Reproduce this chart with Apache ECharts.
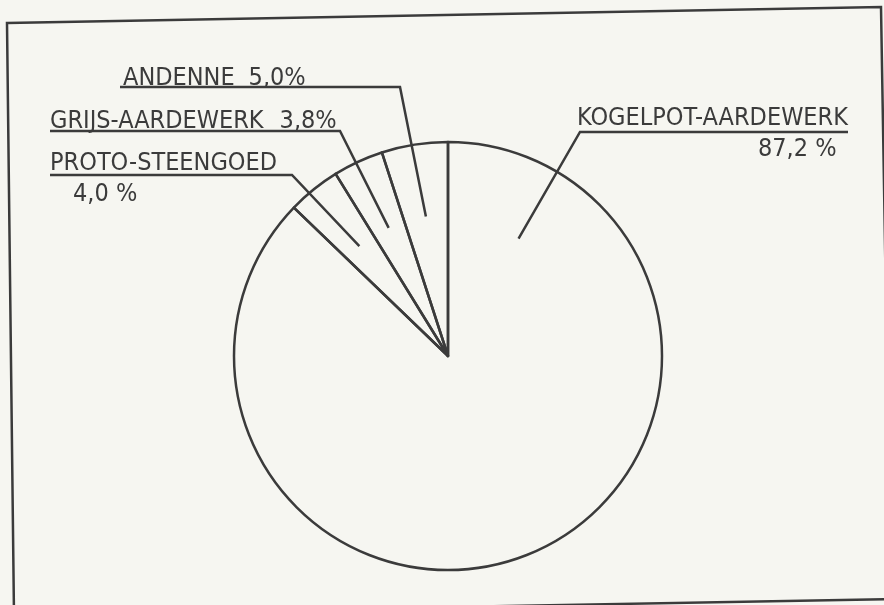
<!DOCTYPE html>
<html>
<head>
<meta charset="utf-8">
<script src="https://cdn.jsdelivr.net/npm/echarts@6/dist/echarts.min.js"></script>
<style>
  html, body { margin: 0; padding: 0; background: #f6f6f1; }
  #chart { width: 884px; height: 605px; }
</style>
</head>
<body>
<div id="chart"></div>
<script>
// ---- data ----
const categories = ['KOGELPOT-AARDEWERK', 'PROTO-STEENGOED', 'GRIJS-AARDEWERK', 'ANDENNE'];
const percentages = [87.2, 4.0, 3.8, 5.0];
const percentLabels = ['87,2 %', '4,0 %', '3,8%', '5,0%'];

// ---- layout (annotation placement, not data) ----
const CENTER = [448, 356];
const RADIUS = 214;
const INK = '#3b3b3b';
const FONT = '"DejaVu Sans Condensed", "Liberation Sans Narrow", "DejaVu Sans", sans-serif';
const FS = 25;

// label text top-left, underline y, elbow x, underline far end x
const labelPlace = {
  'KOGELPOT-AARDEWERK': { x: 577, y: 100, uy: 132, elbowX: 580, endX: 848, innerAngle: 31, style: 'q' },
  'PROTO-STEENGOED':    { x: 50,  y: 145, uy: 175, elbowX: 292, endX: 50, style: 'p' },
  'GRIJS-AARDEWERK':    { x: 50,  y: 103, uy: 131, elbowX: 340, endX: 50, style: 'g' },
  'ANDENNE':            { x: 123, y: 60,  uy: 87,  elbowX: 400, endX: 120, style: 'a' }
};

const chart = echarts.init(document.getElementById('chart'), null, { renderer: 'canvas' });

const seriesData = categories.map((c, i) => {
  const st = labelPlace[c].style;
  let fmt;
  if (st === 'q' || st === 'p') {
    fmt = '{t|' + c + '}\n{' + st + '|' + percentLabels[i] + '}';
  } else {
    fmt = '{t|' + c + '}{' + st + '|' + percentLabels[i] + '}';
  }
  return { name: c, value: percentages[i], label: { formatter: fmt } };
});

const txt = { fontFamily: FONT, fontSize: FS, color: INK };

const option = {
  backgroundColor: '#f6f6f1',
  animation: false,
  graphic: [
    {
      type: 'polygon',
      shape: { points: [[7, 23], [881, 7], [891, 599], [14, 615]] },
      style: { fill: 'none', stroke: INK, lineWidth: 2.5 },
      silent: true
    }
  ],
  series: [{
    type: 'pie',
    center: CENTER,
    radius: RADIUS,
    startAngle: 90,
    clockwise: true,
    avoidLabelOverlap: false,
    data: seriesData,
    itemStyle: { color: 'rgba(0,0,0,0)', borderColor: INK, borderWidth: 2.5 },
    emphasis: { disabled: true },
    label: {
      show: true,
      position: 'outside',
      alignTo: 'none',
      color: INK,
      fontFamily: FONT,
      fontSize: FS,
      rich: {
        t: Object.assign({ lineHeight: 36 }, txt),
        a: Object.assign({ lineHeight: 36, padding: [0, 0, 0, 14] }, txt),
        g: Object.assign({ lineHeight: 36, padding: [0, 0, 0, 16] }, txt),
        p: Object.assign({ lineHeight: 26, padding: [0, 0, 0, 23] }, txt),
        q: Object.assign({ lineHeight: 26, padding: [0, 0, 0, 181] }, txt)
      }
    },
    labelLine: {
      show: true,
      length: 20,
      length2: 20,
      smooth: false,
      lineStyle: { color: INK, width: 2.5 }
    },
    labelLayout: function (params) {
      const name = categories[params.dataIndex];
      const pl = labelPlace[name];
      let inner;
      if (pl.innerAngle != null) {
        const a = pl.innerAngle * Math.PI / 180;
        inner = [CENTER[0] + Math.sin(a) * RADIUS * 0.64, CENTER[1] - Math.cos(a) * RADIUS * 0.64];
      } else {
        const p0 = params.labelLinePoints[0];
        inner = [CENTER[0] + (p0[0] - CENTER[0]) * 0.66, CENTER[1] + (p0[1] - CENTER[1]) * 0.66];
      }
      return {
        x: pl.x,
        y: pl.y,
        align: 'left',
        verticalAlign: 'top',
        labelLinePoints: [inner, [pl.elbowX, pl.uy], [pl.endX, pl.uy]]
      };
    }
  }]
};

chart.setOption(option);
</script>
</body>
</html>
